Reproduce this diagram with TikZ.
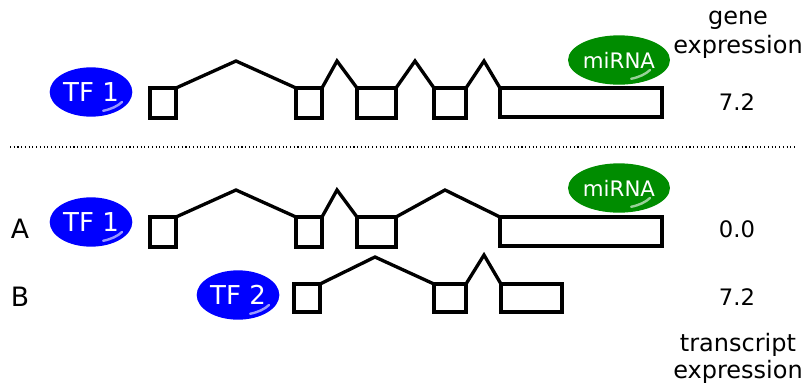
\documentclass[tikz,border=0pt]{standalone}
\usepackage{fontspec}
\setmainfont{DejaVu Sans}
\usetikzlibrary{shapes.geometric,calc}
\begin{document}
\begin{tikzpicture}[x=0.75pt,y=-0.75pt,
  exon/.style={draw=black,line width=2.5pt,fill=white},
  intron/.style={draw=black,line width=2.5pt,line join=miter},
  tf/.style={ellipse,fill=blue,text=white,minimum width=62pt,minimum height=37pt,inner sep=0pt,font=\fontsize{19.5}{19.5}\selectfont},
  mir/.style={ellipse,fill=green!55!black,text=white,minimum width=64pt,minimum height=37pt,inner sep=0pt,font=\fontsize{16}{16}\selectfont},
  lab/.style={font=\fontsize{18}{18}\selectfont,inner sep=0pt},
  num/.style={font=\fontsize{17}{17}\selectfont,inner sep=0pt},
  row/.style={font=\fontsize{20}{20}\selectfont,inner sep=0pt},
  shine/.style={white,line width=1.8pt,opacity=0.6,line cap=round}
]
\useasboundingbox (0,0) rectangle (807,387);

% ---------- top row ----------
\node[tf] (tfa) at (91,92) {TF 1};
\draw[shine] ($(tfa.center)+(31,10)$) arc[start angle=30,end angle=70,x radius=36,y radius=20];
\draw[exon] (150,88) rectangle (176,118);
\draw[exon] (296,88) rectangle (322,118);
\draw[exon] (357,88) rectangle (396,118);
\draw[exon] (434,88) rectangle (466,118);
\draw[exon] (500,88) rectangle (662,117);
\draw[intron] (176,88) -- (236,61) -- (296,88);
\draw[intron] (322,88) -- (337,61) -- (357,88);
\draw[intron] (396,88) -- (415,61) -- (434,88);
\draw[intron] (466,88) -- (484,61) -- (500,88);
\node[mir] (mira) at (619,60) {miRNA};
\draw[shine] ($(mira.center)+(31,10)$) arc[start angle=30,end angle=70,x radius=36,y radius=20];

\node[lab] (ge1) at (738,20) {gene};
\node[lab] (ge2) at (738,47) {expression};
\node[num] (v1) at (737,102) {7.2};

\draw[dotted,line width=0.8pt] (10,147) -- (797,147);

% ---------- row A ----------
\node[row] (A) at (20,229) {A};
\node[tf] (tfb) at (91,222) {TF 1};
\draw[shine] ($(tfb.center)+(31,10)$) arc[start angle=30,end angle=70,x radius=36,y radius=20];
\draw[exon] (150,217) rectangle (176,247);
\draw[exon] (296,217) rectangle (322,247);
\draw[exon] (357,217) rectangle (396,247);
\draw[exon] (500,217) rectangle (662,246);
\draw[intron] (176,217) -- (236,190) -- (296,217);
\draw[intron] (322,217) -- (337,190) -- (357,217);
\draw[intron] (396,217) -- (445,190) -- (500,217);
\node[mir] (mirb) at (619,188) {miRNA};
\draw[shine] ($(mirb.center)+(31,10)$) arc[start angle=30,end angle=70,x radius=36,y radius=20];
\node[num] (v2) at (737,229) {0.0};

% ---------- row B ----------
\node[row] (B) at (20,297) {B};
\node[tf] (tfc) at (238,295) {TF 2};
\draw[shine] ($(tfc.center)+(31,10)$) arc[start angle=30,end angle=70,x radius=36,y radius=20];
\draw[exon] (294,284) rectangle (320,312);
\draw[exon] (434,284) rectangle (466,312);
\draw[exon] (501,284) rectangle (562,312);
\draw[intron] (320,284) -- (375,257) -- (434,284);
\draw[intron] (466,284) -- (484,255) -- (501,284);
\node[num] (v3) at (737,297) {7.2};

\node[lab] (te1) at (738,345) {transcript};
\node[lab] (te2) at (738,372) {expression};
\end{tikzpicture}
\end{document}
